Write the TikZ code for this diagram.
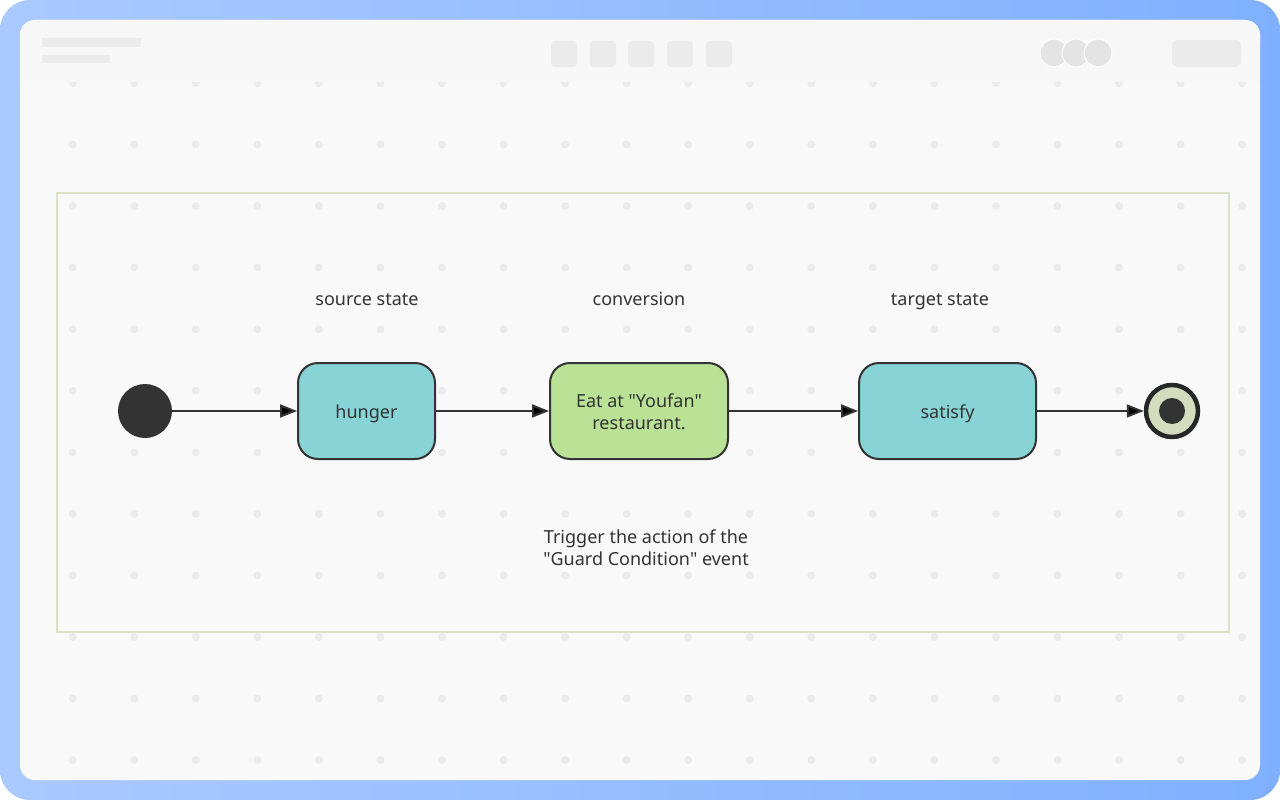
\documentclass[tikz,border=0pt]{standalone}
\usepackage{fontspec}
\setmainfont{Noto Sans}
\usepackage{tikz}
\usetikzlibrary{arrows.meta}
\usetikzlibrary{calc}
\definecolor{inkdark}{HTML}{333333}
\definecolor{panelbg}{HTML}{F9F9F9}
\definecolor{headbg}{HTML}{F7F7F7}
\definecolor{greyish}{HTML}{EBEBEB}
\definecolor{circgrey}{HTML}{E4E4E4}
\definecolor{stateblue}{HTML}{88D3D6}
\definecolor{stategreen}{HTML}{B9E296}
\definecolor{framegreen}{HTML}{DCE2C6}
\definecolor{finalfill}{HTML}{D5DBBF}
\definecolor{edgeleft}{HTML}{AACAFF}
\definecolor{edgeright}{HTML}{7FB0FF}
\tikzset{
	statebox/.style={draw=inkdark, line width=2pt, rounded corners=20pt, minimum height=96pt, align=center, text=inkdark, text height=14pt, text depth=0pt, font=\fontsize{18}{21.5}\selectfont},
	caption/.style={text=inkdark, align=center, text height=14pt, text depth=0pt, font=\fontsize{18}{22}\selectfont},
	twolines/.style={text height=36pt},
	trans/.style={draw=inkdark, line width=2pt, -{Triangle[length=17pt,width=13pt]}}
}
\begin{document}
\begin{tikzpicture}[x=1pt, y=-1pt]
\useasboundingbox (0,0) rectangle (1280,800);
\fill[white] (0,0) rectangle (1280,800);
\shade[left color=edgeleft, right color=edgeright, rounded corners=30pt] (0,0) rectangle (1280,800);
\fill[panelbg, rounded corners=15pt] (20,20) rectangle (1260,780);
\foreach \i in {0,...,19}
	\foreach \j in {0,...,11}
		\fill[greyish] (72.7+61.55*\i, 83+61.55*\j) circle (4);
\fill[headbg, rounded corners=15pt] (20,20) rectangle (1260,60);
\fill[headbg] (20,40) rectangle (1260,82);
\fill[greyish] (42,38) rectangle (141,47);
\fill[greyish] (42,55) rectangle (110,63);
\foreach \x in {551,590,628,667,706}
	\fill[greyish, rounded corners=4pt] (\x,41) rectangle ++(26,26);
\foreach \x in {1054,1076,1098}
	\filldraw[fill=circgrey, draw=white, line width=1pt] (\x,53) circle (14);
\fill[greyish, rounded corners=5pt] (1172,40) rectangle (1241,67);
\draw[framegreen, line width=2pt] (57,193) rectangle (1229,632);

\node[circle, fill=inkdark, minimum size=54pt, inner sep=0pt] (init) at (145,411) {};
\node[statebox, fill=stateblue, minimum width=137pt] (hunger) at (366.5,411) {hunger};
\node[statebox, twolines, fill=stategreen, minimum width=178pt] (eat) at (639,411) {Eat at \textquotedbl Youfan\textquotedbl\\restaurant.};
\node[statebox, fill=stateblue, minimum width=177pt] (satisfy) at (947.5,411) {satisfy};
\node[circle, draw=black!85, line width=4.5pt, fill=finalfill, minimum size=52pt, inner sep=0pt] (final) at (1172,411) {};
\fill[inkdark] (final.center) circle (13);

\node[caption] (srclbl) at (367,298) {source state};
\node[caption] (convlbl) at (639,298) {conversion};
\node[caption] (tgtlbl) at (940,298) {target state};
\node[caption, twolines] (guardlbl) at (646,547) {Trigger the action of the\\\textquotedbl Guard Condition\textquotedbl{} event};

\path[trans]
(init) edge (hunger)
(hunger) edge (eat)
(eat) edge (satisfy)
(satisfy) edge (final)
;
\end{tikzpicture}
\end{document}
